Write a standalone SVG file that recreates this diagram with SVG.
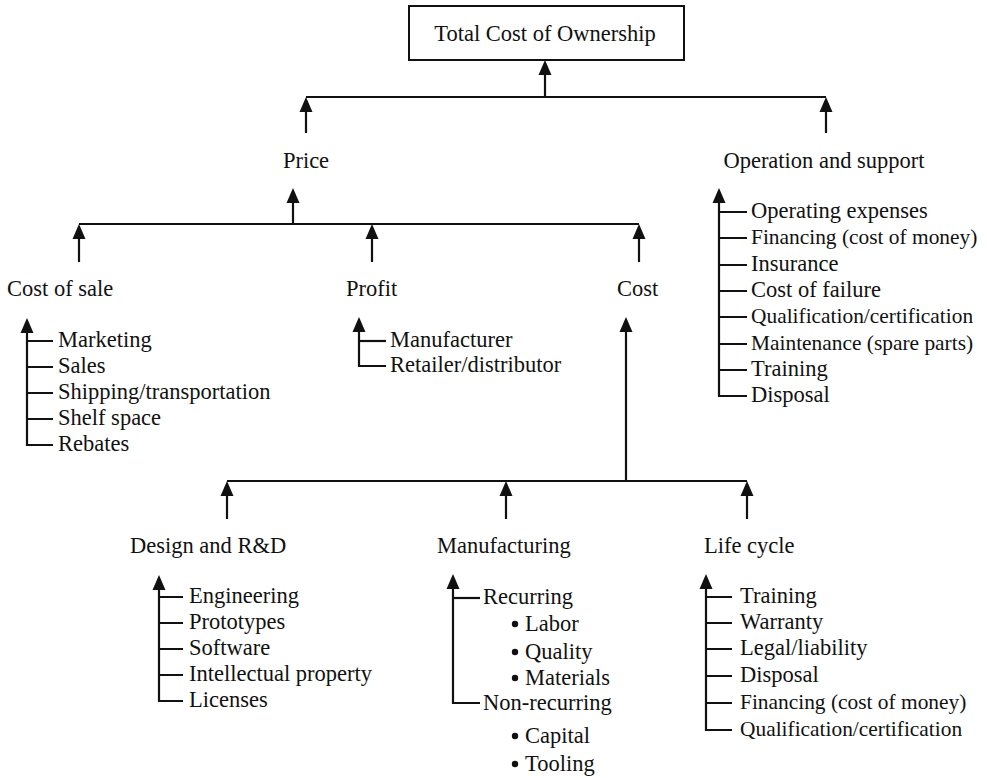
<svg xmlns="http://www.w3.org/2000/svg" width="987" height="778" viewBox="0 0 987 778">
  <style>
    text { font-family: "Liberation Serif", "Times New Roman", serif; font-size: 22.5px; fill: #111; }
    text.tight { font-size: 21.4px; }
    .mid { text-anchor: middle; }
    .ln { fill: none; stroke: #111; stroke-width: 2.2; stroke-linejoin: miter; stroke-linecap: butt; }
    .arr { marker-end: url(#head); }
    .box { fill: #fff; stroke: #111; stroke-width: 2; }
    .dot { fill: #111; }
  </style>
  <defs>
    <!-- filled arrowhead; tip sits 10px beyond the end of the line -->
    <marker id="head" markerUnits="userSpaceOnUse" markerWidth="16" markerHeight="14" refX="5" refY="7" orient="auto" overflow="visible">
      <path d="M0,0.5 L15,7 L0,13.5 Z" fill="#111"/>
    </marker>
  </defs>

  <!-- connectors -->
  <g id="connectors">
    <!-- level 1: into Total Cost of Ownership -->
    <path class="ln" d="M306,97 H826"/>
    <path class="ln arr" d="M545,97 V70"/>
    <path class="ln arr" d="M306,133 V107"/>
    <path class="ln arr" d="M826,133 V107"/>

    <!-- level 2: into Price -->
    <path class="ln" d="M79,224 H639"/>
    <path class="ln arr" d="M293,224 V198"/>
    <path class="ln arr" d="M79,262 V234"/>
    <path class="ln arr" d="M372,262 V234"/>
    <path class="ln arr" d="M639,262 V234"/>

    <!-- level 3: into Cost -->
    <path class="ln" d="M227,481 H747"/>
    <path class="ln arr" d="M626,481 V327"/>
    <path class="ln arr" d="M227,519 V491"/>
    <path class="ln arr" d="M506,519 V491"/>
    <path class="ln arr" d="M747,519 V491"/>
  </g>

  <g id="total-cost">
    <rect class="box" x="409" y="6" width="275" height="54"/>
    <text class="mid" x="545" y="41">Total Cost of Ownership</text>
  </g>

  <g id="price">
    <text class="mid" x="306" y="168">Price</text>
  </g>

  <g id="operation-support">
    <text class="mid" x="824" y="168">Operation and support</text>
    <path class="ln arr" d="M747,396 H719 V198"/>
    <path class="ln" d="M719,212 H747 M719,238 H747 M719,265 H747 M719,291 H747 M719,317 H747 M719,344 H747 M719,370 H747"/>
    <text x="751" y="218">Operating expenses</text>
    <text class="tight" x="751" y="244">Financing (cost of money)</text>
    <text x="751" y="271">Insurance</text>
    <text x="751" y="297">Cost of failure</text>
    <text class="tight" x="751" y="323">Qualification/certification</text>
    <text class="tight" x="751" y="350">Maintenance (spare parts)</text>
    <text x="751" y="376">Training</text>
    <text x="751" y="402">Disposal</text>
  </g>

  <g id="cost-of-sale">
    <text x="7" y="296">Cost of sale</text>
    <path class="ln arr" d="M53,445 H27 V328"/>
    <path class="ln" d="M27,341 H53 M27,367 H53 M27,393 H53 M27,419 H53"/>
    <text x="58" y="347">Marketing</text>
    <text x="58" y="373">Sales</text>
    <text x="58" y="399">Shipping/transportation</text>
    <text x="58" y="425">Shelf space</text>
    <text x="58" y="451">Rebates</text>
  </g>

  <g id="profit">
    <text x="346" y="296">Profit</text>
    <path class="ln arr" d="M386,366 H359 V327"/>
    <path class="ln" d="M359,341 H386"/>
    <text x="390" y="347">Manufacturer</text>
    <text x="390" y="372">Retailer/distributor</text>
  </g>

  <g id="cost">
    <text x="617" y="296">Cost</text>
  </g>

  <g id="design-rd">
    <text x="130" y="553">Design and R&amp;D</text>
    <path class="ln arr" d="M183,701 H159 V585"/>
    <path class="ln" d="M159,597 H183 M159,623 H183 M159,649 H183 M159,675 H183"/>
    <text x="189" y="603">Engineering</text>
    <text x="189" y="629">Prototypes</text>
    <text x="189" y="655">Software</text>
    <text x="189" y="681">Intellectual property</text>
    <text x="189" y="707">Licenses</text>
  </g>

  <g id="manufacturing">
    <text x="437" y="553">Manufacturing</text>
    <path class="ln arr" d="M480,703 H453 V584"/>
    <path class="ln" d="M453,598 H480"/>
    <text x="483" y="604">Recurring</text>
    <circle class="dot" cx="515" cy="624" r="3.2"/>
    <text x="525" y="631">Labor</text>
    <circle class="dot" cx="515" cy="652" r="3.2"/>
    <text x="525" y="659">Quality</text>
    <circle class="dot" cx="515" cy="678" r="3.2"/>
    <text x="525" y="685">Materials</text>
    <text x="483" y="710">Non-recurring</text>
    <circle class="dot" cx="515" cy="736" r="3.2"/>
    <text x="525" y="743">Capital</text>
    <circle class="dot" cx="515" cy="764" r="3.2"/>
    <text x="525" y="771">Tooling</text>
  </g>

  <g id="life-cycle">
    <text x="704" y="553">Life cycle</text>
    <path class="ln arr" d="M732,730 H706 V584"/>
    <path class="ln" d="M706,597 H732 M706,623 H732 M706,649 H732 M706,676 H732 M706,703 H732"/>
    <text x="740" y="603">Training</text>
    <text x="740" y="629">Warranty</text>
    <text x="740" y="655">Legal/liability</text>
    <text x="740" y="682">Disposal</text>
    <text class="tight" x="740" y="709">Financing (cost of money)</text>
    <text class="tight" x="740" y="736">Qualification/certification</text>
  </g>
</svg>
